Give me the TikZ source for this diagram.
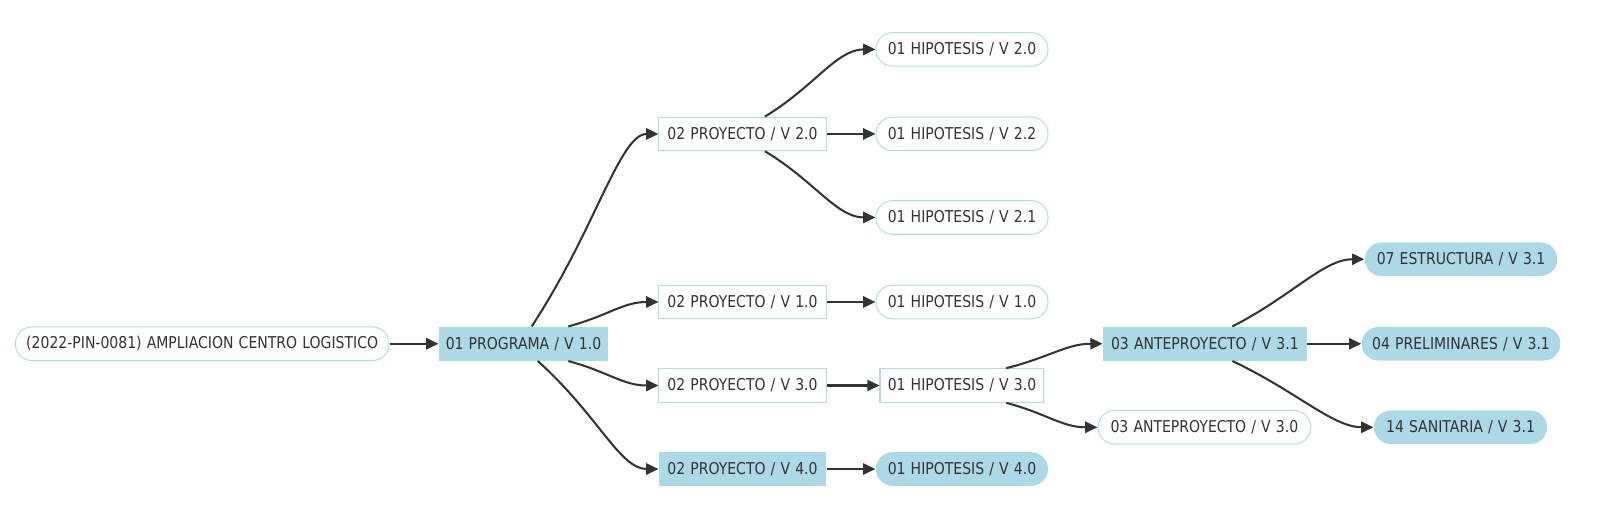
\documentclass[tikz,border=0pt]{standalone}
\usepackage{fontspec}
\setmainfont{DejaVu Sans}[FakeStretch=0.86,WordSpace=1.15]
\usetikzlibrary{arrows.meta,calc}
\definecolor{nodefill}{HTML}{ADD8E6}
\definecolor{nodeline}{HTML}{B4D9E6}
\definecolor{edgecol}{HTML}{333333}
\definecolor{txt}{HTML}{333333}
\begin{document}
\begin{tikzpicture}[x=1pt,y=-1pt,
  base/.style={inner sep=0pt,minimum height=33pt,text=txt,font=\fontsize{16pt}{18pt}\selectfont,line width=1pt},
  rectw/.style={base,rectangle,draw=nodeline,fill=white},
  rectf/.style={base,rectangle,fill=nodefill},
  pillw/.style={base,rectangle,rounded corners=16.5pt,draw=nodeline,fill=white},
  pillf/.style={base,rectangle,rounded corners=16.5pt,fill=nodefill},
  conn/.style={draw=edgecol,line width=2pt,-{Triangle[length=12pt,width=11pt]}}]
\useasboundingbox (0,0) rectangle (1568,514);
\node[pillw,minimum width=367pt] (root) at (198.5,337.5) {(2022-PIN-0081) AMPLIACION CENTRO LOGISTICO};
\node[rectf,minimum width=166pt] (prog) at (514,337.5) {01 PROGRAMA / V 1.0};
\node[rectw,minimum width=164pt] (p20) at (729,131.5) {02 PROYECTO / V 2.0};
\node[rectw,minimum width=164pt] (p10) at (729,296.5) {02 PROYECTO / V 1.0};
\node[rectw,minimum width=164pt] (p30) at (729,378.5) {02 PROYECTO / V 3.0};
\node[rectf,minimum width=164pt] (p40) at (729,460.5) {02 PROYECTO / V 4.0};
\node[pillw,minimum width=169pt] (h20) at (944.5,48.5) {01 HIPOTESIS / V 2.0};
\node[pillw,minimum width=169pt] (h22) at (944.5,131.5) {01 HIPOTESIS / V 2.2};
\node[pillw,minimum width=169pt] (h21) at (944.5,213.5) {01 HIPOTESIS / V 2.1};
\node[pillw,minimum width=169pt] (h10) at (944.5,296.5) {01 HIPOTESIS / V 1.0};
\node[rectw,minimum width=161pt] (h30) at (944.5,378.5) {01 HIPOTESIS / V 3.0};
\node[pillf,minimum width=169pt] (h40) at (944.5,460.5) {01 HIPOTESIS / V 4.0};
\node[rectf,minimum width=200pt] (a31) at (1183,337.5) {03 ANTEPROYECTO / V 3.1};
\node[pillw,minimum width=209pt] (a30) at (1182.5,419.5) {03 ANTEPROYECTO / V 3.0};
\node[pillf,minimum width=189pt] (e31) at (1434.5,254.5) {07 ESTRUCTURA / V 3.1};
\node[pillf,minimum width=195pt] (pre31) at (1434.5,337.5) {04 PRELIMINARES / V 3.1};
\node[pillf,minimum width=170pt] (s31) at (1434,419.5) {14 SANITARIA / V 3.1};

\coordinate (sa) at ($(prog.north)+(8,0)$);
\coordinate (sb) at ($(prog.north)+(44,0)$);
\coordinate (sc) at ($(prog.south)+(44,0)$);
\coordinate (sd) at ($(prog.south)+(14,0)$);
\coordinate (se) at ($(p20.north)+(22,0)$);
\coordinate (sf) at ($(p20.south)+(22,0)$);
\coordinate (sg) at ($(h30.north)+(43.5,0)$);
\coordinate (sh) at ($(h30.south)+(43.5,0)$);
\coordinate (si) at ($(a31.north)+(27,0)$);
\coordinate (sj) at ($(a31.south)+(27,0)$);

\draw[conn] (root) -- (prog);
\draw[conn] (sa) .. controls ($(sa)!0.5!(p20.west)$) and ($(p20.west)+(-38,0)$) .. (p20.west);
\draw[conn] (sb) .. controls ($(sb)!0.45!(p10.west)$) and ($(p10.west)+(-35,0)$) .. (p10.west);
\draw[conn] (sc) .. controls ($(sc)!0.45!(p30.west)$) and ($(p30.west)+(-35,0)$) .. (p30.west);
\draw[conn] (sd) .. controls ($(sd)!0.5!(p40.west)$) and ($(p40.west)+(-38,0)$) .. (p40.west);
\draw[conn] (se) .. controls ($(se)!0.45!(h20.west)$) and ($(h20.west)+(-38,0)$) .. (h20.west);
\draw[conn] (p20) -- (h22);
\draw[conn] (sf) .. controls ($(sf)!0.45!(h21.west)$) and ($(h21.west)+(-38,0)$) .. (h21.west);
\draw[conn] (p10) -- (h10);
\draw[conn] (p30) -- (h30);
\draw[conn] (p40) -- (h40);
\draw[conn] (sg) .. controls ($(sg)!0.45!(a31.west)$) and ($(a31.west)+(-35,0)$) .. (a31.west);
\draw[conn] (sh) .. controls ($(sh)!0.45!(a30.west)$) and ($(a30.west)+(-35,0)$) .. (a30.west);
\draw[conn] (si) .. controls ($(si)!0.45!(e31.west)$) and ($(e31.west)+(-40,0)$) .. (e31.west);
\draw[conn] (a31) -- (pre31);
\draw[conn] (sj) .. controls ($(sj)!0.45!(s31.west)$) and ($(s31.west)+(-40,0)$) .. (s31.west);
\end{tikzpicture}
\end{document}
